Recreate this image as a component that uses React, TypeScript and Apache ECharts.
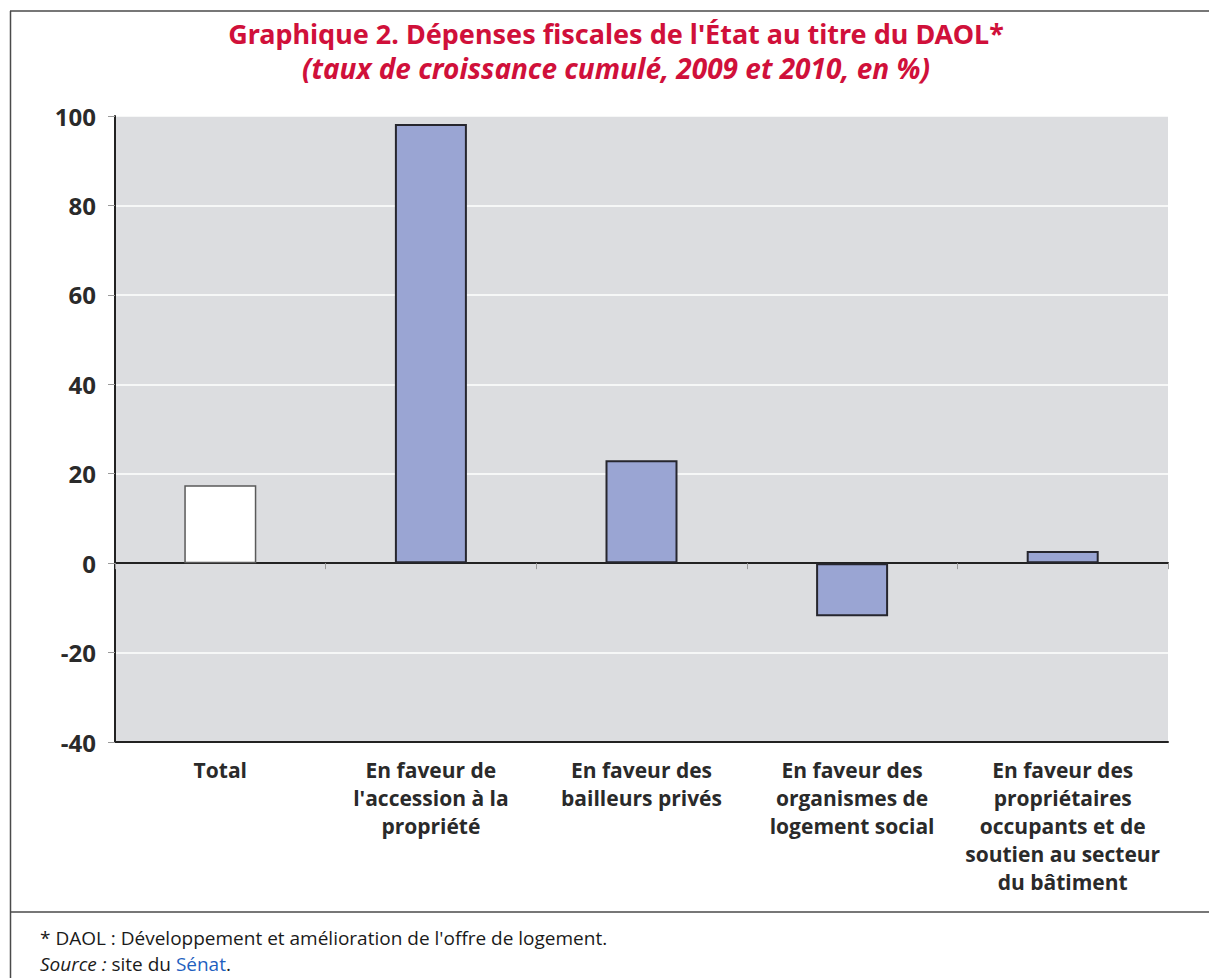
import React, { useEffect, useRef } from "react";
import * as echarts from "echarts";

const categories = [
  "Total",
  "En faveur de\nl'accession à la\npropriété",
  "En faveur des\nbailleurs privés",
  "En faveur des\norganismes de\nlogement social",
  "En faveur des\npropriétaires\noccupants et de\nsoutien au secteur\ndu bâtiment",
];
const values = [17.4, 98.2, 23.0, -11.9, 2.7];
const isTotal = [true, false, false, false, false];
const yMin = -40;
const yMax = 100;
const yInterval = 20;

const titleText = "Graphique 2. Dépenses fiscales de l'État au titre du DAOL*";
const subtitleText = "(taux de croissance cumulé, 2009 et 2010, en %)";
const footnoteText = "* DAOL : Développement et amélioration de l'offre de logement.";

export default function App() {
  const ref = useRef<HTMLDivElement>(null);
  useEffect(() => {
    if (!ref.current) return;
    const chart = echarts.init(ref.current, undefined, { renderer: "svg" });
    const font = "'Open Sans', 'Noto Sans', sans-serif";
    const titleFont = "'Noto Sans', 'Open Sans', sans-serif";
    const data = values.map((v, i) =>
      isTotal[i]
        ? { value: v, itemStyle: { color: "#ffffff", borderColor: "#5a5a5a", borderWidth: 1.5 } }
        : { value: v, itemStyle: { color: "#9aa5d3", borderColor: "#26262e", borderWidth: 2 } }
    );
    chart.setOption({
      animation: false,
      backgroundColor: "#ffffff",
      grid: {
        left: 115,
        top: 116,
        width: 1053,
        height: 626,
        show: true,
        backgroundColor: "#dcdde0",
        borderWidth: 0,
      },
      xAxis: [
        {
          type: "category",
          data: categories,
          position: "bottom",
          axisLine: { onZero: false, lineStyle: { color: "#222222", width: 2 } },
          axisTick: { show: false },
          axisLabel: {
            interval: 0,
            margin: 14,
            fontFamily: font,
            fontSize: 21,
            fontWeight: "bold",
            color: "#2a2a2a",
            lineHeight: 28,
            align: "center",
          },
          splitLine: { show: false },
        },
        {
          type: "category",
          data: categories,
          position: "bottom",
          axisLine: { onZero: true, lineStyle: { color: "#222222", width: 2 } },
          axisTick: { show: true, length: 6, lineStyle: { color: "#9a9a9a", width: 1 } },
          axisLabel: { show: false },
          splitLine: { show: false },
        },
      ],
      yAxis: {
        type: "value",
        min: yMin,
        max: yMax,
        interval: yInterval,
        axisLine: { show: true, lineStyle: { color: "#222222", width: 2 } },
        axisTick: { show: true, length: 7, lineStyle: { color: "#9a9a9a", width: 1 } },
        axisLabel: {
          margin: 19,
          fontFamily: font,
          fontSize: 24,
          fontWeight: "bold",
          color: "#2a2a2a",
        },
        splitLine: { show: true, lineStyle: { color: "#ffffff", width: 1.5 } },
      },
      series: [
        {
          type: "bar",
          xAxisIndex: 0,
          data,
          barWidth: 72,
        },
      ],
      graphic: [
        { type: "line", shape: { x1: 10, y1: 11, x2: 1209, y2: 11 }, style: { stroke: "#4a4a4a", lineWidth: 1.5 } },
        { type: "line", shape: { x1: 10.5, y1: 11, x2: 10.5, y2: 978 }, style: { stroke: "#4a4a4a", lineWidth: 1.5 } },
        { type: "line", shape: { x1: 10, y1: 912, x2: 1209, y2: 912 }, style: { stroke: "#4a4a4a", lineWidth: 1.5 } },
        {
          type: "text",
          x: 616,
          y: 33,
          style: {
            text: titleText,
            fill: "#d0103a",
            font: `bold 27px ${titleFont}`,
            align: "center",
            verticalAlign: "middle",
          },
        },
        {
          type: "text",
          x: 616,
          y: 68,
          style: {
            text: subtitleText,
            fill: "#d0103a",
            font: `italic bold 28px ${titleFont}`,
            align: "center",
            verticalAlign: "middle",
          },
        },
        {
          type: "text",
          x: 40,
          y: 938,
          style: {
            text: footnoteText,
            fill: "#1a1a1a",
            font: `19px ${font}`,
            align: "left",
            verticalAlign: "middle",
          },
        },
        {
          type: "text",
          x: 40,
          y: 964,
          style: {
            text: "{i|Source :} site du {b|Sénat}.",
            fill: "#1a1a1a",
            font: `19px ${font}`,
            align: "left",
            verticalAlign: "middle",
            rich: {
              i: { fontStyle: "italic", fontSize: 19, fontFamily: font, fill: "#1a1a1a" },
              b: { fill: "#1f5fbf", fontSize: 19, fontFamily: font },
            },
          },
        },
      ],
    });
    return () => chart.dispose();
  }, []);
  return (
    <div
      ref={ref}
      style={{ position: "fixed", left: 0, top: 0, width: 1209, height: 978 }}
    />
  );
}
